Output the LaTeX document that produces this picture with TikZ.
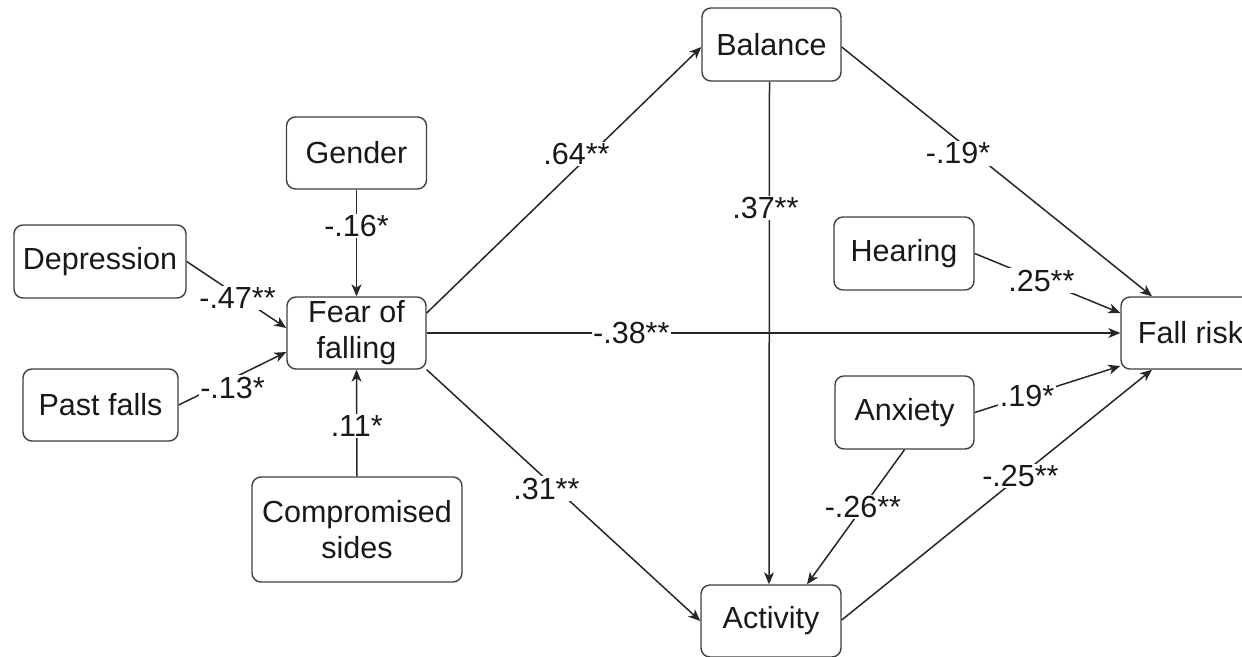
\documentclass[tikz,border=0pt]{standalone}
\usepackage{fontspec}
\setmainfont{Liberation Sans}
\usetikzlibrary{arrows.meta,calc}
\begin{document}
\begin{tikzpicture}[x=1pt,y=-1pt,
  box/.style={draw=black!75, line width=1.4pt, rounded corners=9pt, fill=white, align=center, inner sep=0pt, font=\fontsize{30.5}{36}\selectfont, text=black!90},
  lab/.style={fill=white, inner sep=1.5pt, font=\fontsize{30.5}{36}\selectfont, text=black!90},
  arr/.style={draw=black!85, line width=1.5pt, -{Stealth[length=12pt,width=10pt,inset=3.5pt]}}]
\useasboundingbox (0,0) rectangle (1242,656);

\node[box, minimum width=139pt, minimum height=73pt] (balance) at (771.5,44.5) {Balance};
\node[box, minimum width=140pt, minimum height=72pt] (gender) at (356.5,153) {Gender};
\node[box, minimum width=172pt, minimum height=73pt] (depression) at (100,261.5) {Depression};
\node[box, minimum width=155pt, minimum height=72pt] (pastfalls) at (100.5,405) {Past falls};
\node[box, minimum width=139pt, minimum height=72pt] (fear) at (356.5,333) {Fear of\\falling};
\node[box, minimum width=210pt, minimum height=105pt] (comp) at (357,529.5) {Compromised\\sides};
\node[box, minimum width=140pt, minimum height=73pt] (hearing) at (904,253.5) {Hearing};
\node[box, minimum width=139pt, minimum height=72pt] (fallrisk) at (1190.5,333) {Fall risk};
\node[box, minimum width=139pt, minimum height=73pt] (anxiety) at (904.5,412.5) {Anxiety};
\node[box, minimum width=140pt, minimum height=72pt] (activity) at (771,621) {Activity};

% inputs to fear of falling
\draw[arr] (gender.south) -- node[lab, pos=0.34] {-.16*} (fear.north);
\draw[arr] (depression.east) -- node[lab, pos=0.51, yshift=-3pt] {-.47**} ($(fear.west)+(0,-5)$);
\draw[arr] (pastfalls.east) -- node[lab, pos=0.5, yshift=-9pt] {-.13*} ($(fear.west)+(0,19)$);
\draw[arr] (comp.north) -- node[lab, pos=0.47] {.11*} (fear.south);

% from fear of falling
\draw[arr] ($(fear.east)+(0,-20)$) -- node[lab, pos=0.571, xshift=-7pt, yshift=7pt] {.64**} ($(balance.west)+(0,2.5)$);
\draw[arr] (fear.east) -- node[lab, pos=0.295] {-.38**} (fallrisk.west);
\draw[arr] (fear.south east) -- node[lab, pos=0.454, xshift=-4.5pt, yshift=-5pt] {.31**} (activity.west);

% balance
\draw[arr] ($(balance.south)+(-2,0)$) -- node[lab, pos=0.251, xshift=-4pt] {.37**} ($(activity.north)+(-2,0)$);
\draw[arr] ($(balance.east)+(0,2.5)$) -- node[lab, pos=0.375, yshift=-13pt] {-.19*} ($(fallrisk.north)+(-38.5,0)$);

% right side
\draw[arr] (hearing.east) -- node[lab, pos=0.458] {.25**} ($(fallrisk.west)+(0,-20)$);
\draw[arr] (anxiety.east) -- node[lab, pos=0.36] {.19*} ($(fallrisk.west)+(0,33)$);
\draw[arr] ($(activity.east)+(0,-1)$) -- node[lab, pos=0.576] {-.25**} ($(fallrisk.south)+(-38.5,0)$);
\draw[arr] (anxiety.south) -- node[lab, pos=0.426] {-.26**} ($(activity.north)+(36,0)$);
\end{tikzpicture}
\end{document}
